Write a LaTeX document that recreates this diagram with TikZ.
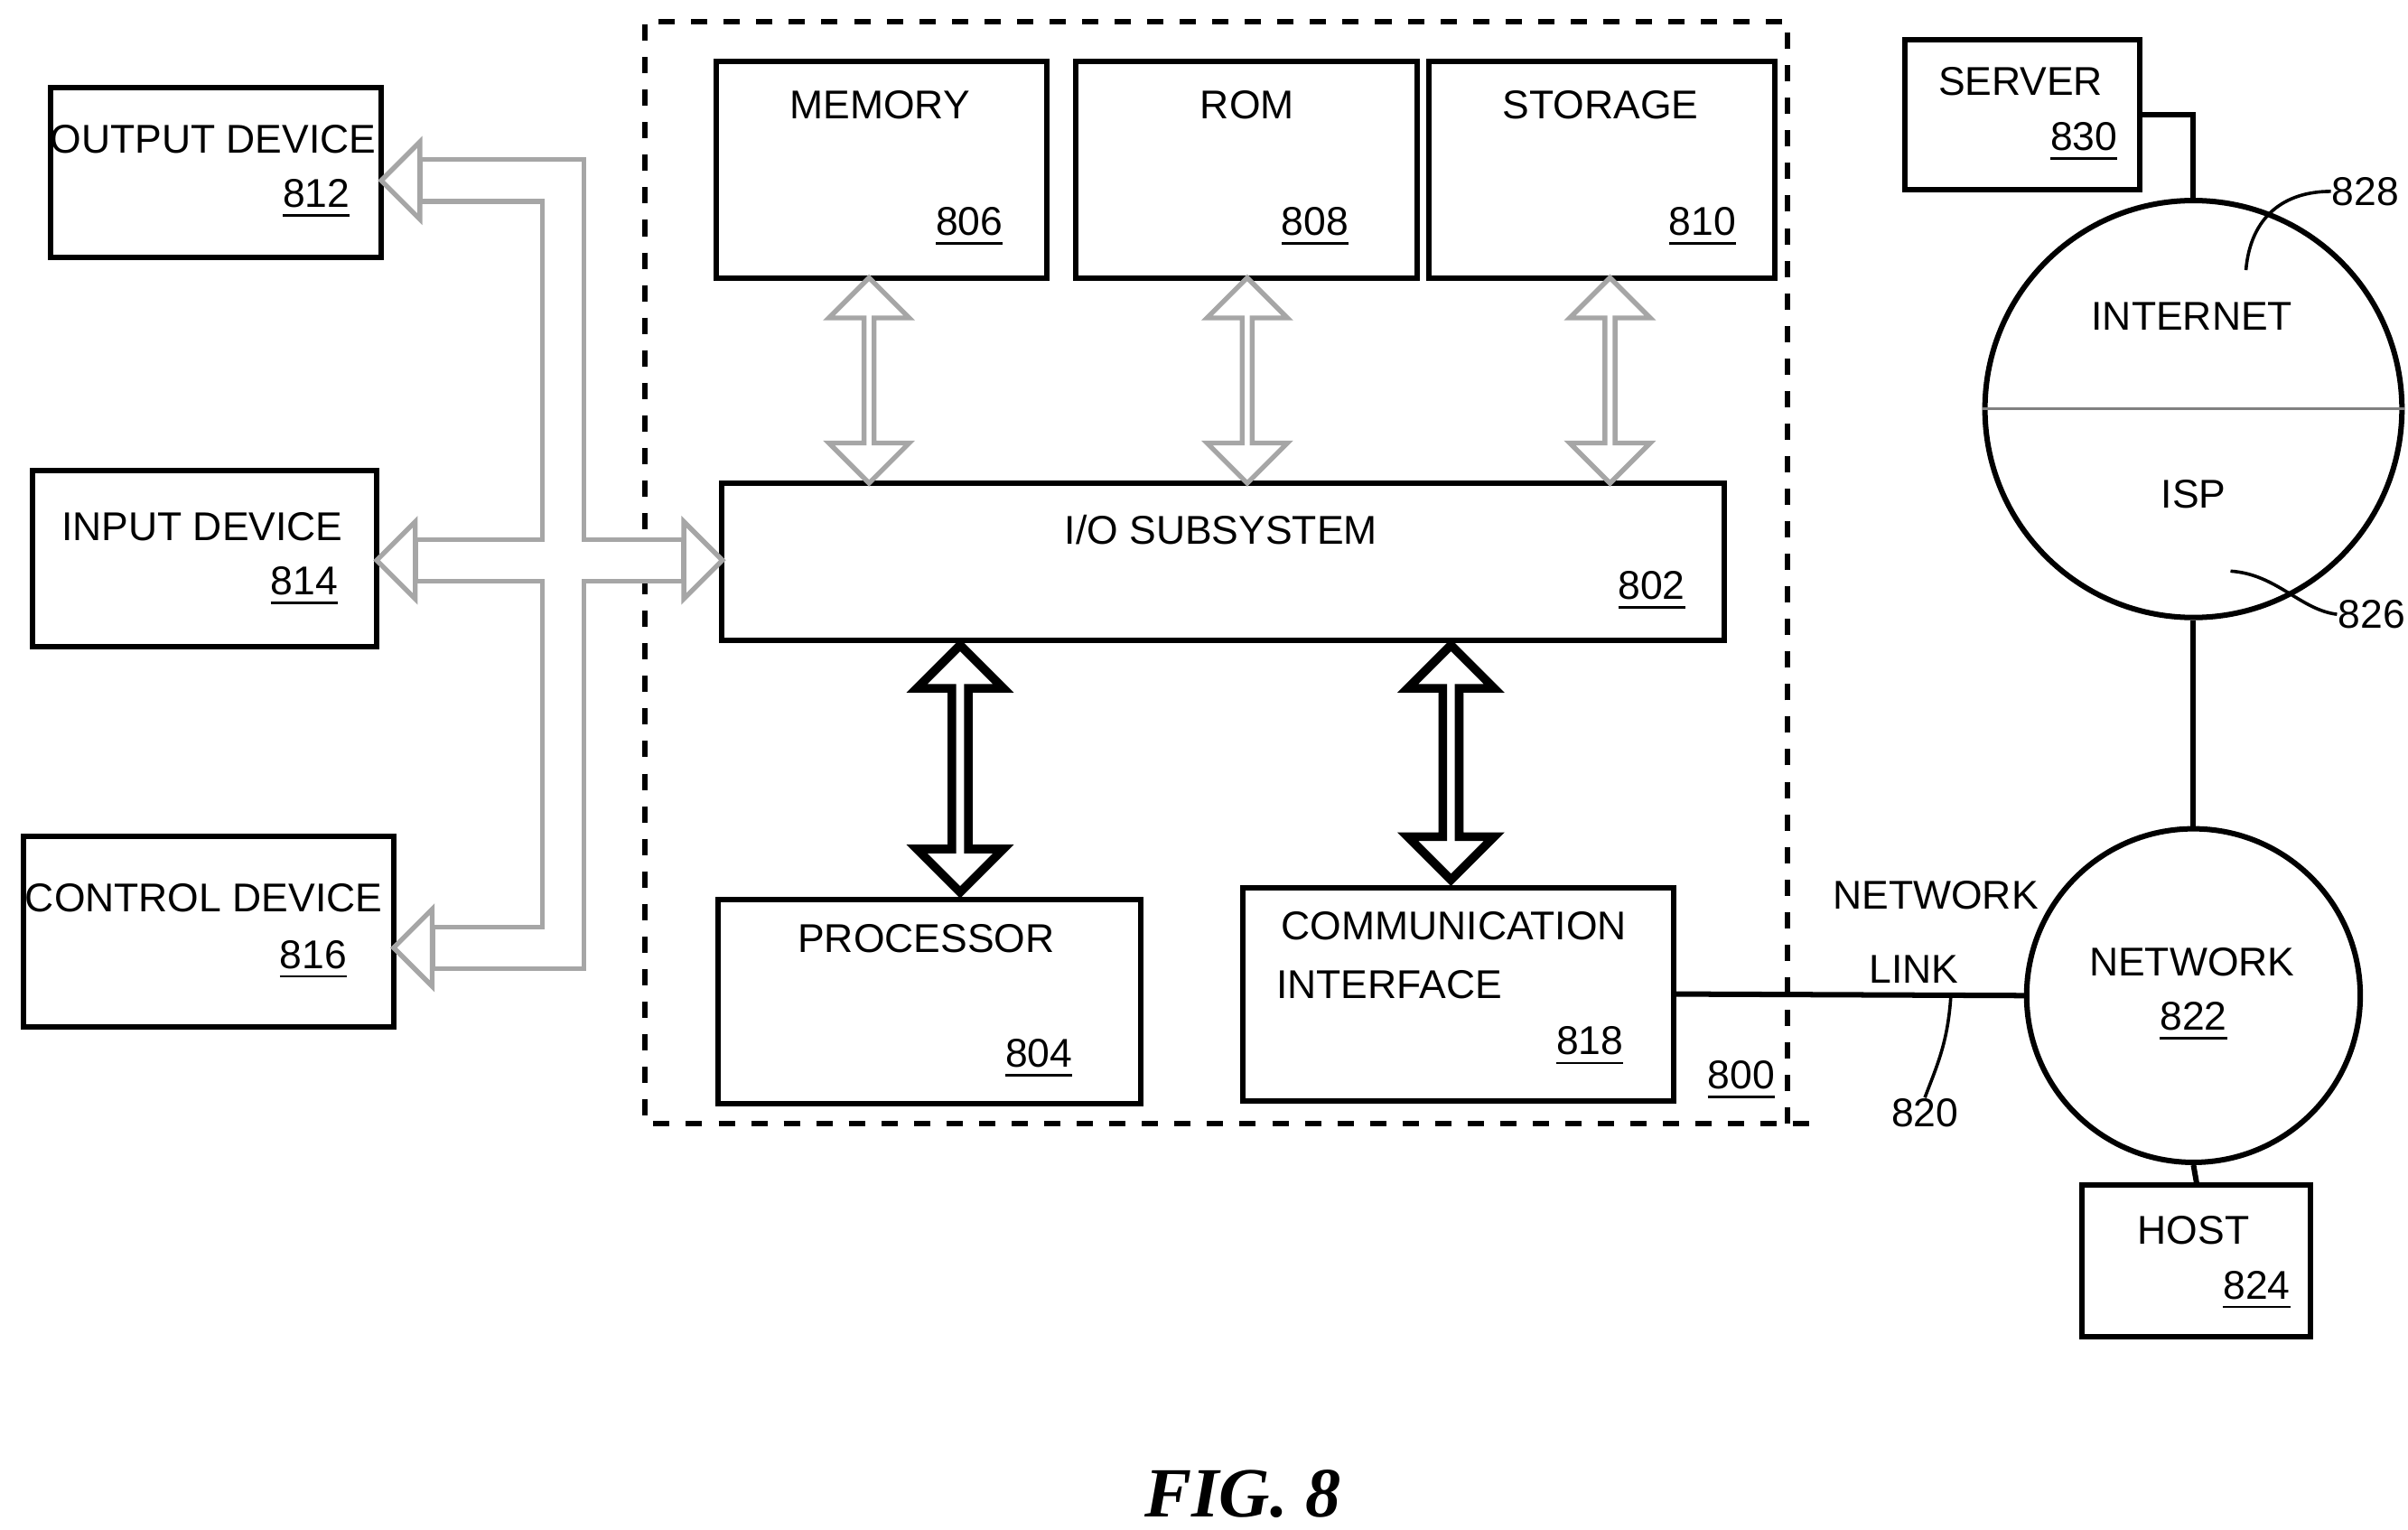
\documentclass[tikz,border=0pt]{standalone}
\usepackage{fontspec}
\setmainfont{Liberation Sans}
\newfontfamily\figfont{Liberation Serif}
\usetikzlibrary{shapes.arrows}
\newcommand{\lbfont}{\fontsize{7.4}{9}\selectfont}
\tikzset{
  box/.style={draw, line width=1pt, inner sep=0pt},
  lbl/.style={font=\lbfont, inner sep=0pt},
  ubus/.style={double arrow, draw=gray!70, line width=0.9pt, rotate=90,
    minimum width=0.52cm, double arrow head extend=0.11cm, inner sep=0pt},
  lbus/.style={double arrow, draw, line width=1.6pt, rotate=90,
    minimum width=0.56cm, double arrow head extend=0.12cm, inner sep=0pt}
}
\begin{document}
\begin{tikzpicture}[x=0.01cm, y=-0.01cm]
    \useasboundingbox (0,0) rectangle (1560,991);
    % system boundary
    \draw[dashed, line width=1pt] (1158,728) -- (1158,14) -- (418,14) -- (418,728) -- (1175,728);
    % boxes
    \node[box, minimum width=2.14cm, minimum height=1.40cm] (mem) at (571,110) {};
    \node[box, minimum width=2.21cm, minimum height=1.40cm] (rom) at (807.5,110) {};
    \node[box, minimum width=2.24cm, minimum height=1.40cm] (sto) at (1038,110) {};
    \node[box, minimum width=6.49cm, minimum height=1.02cm] (io) at (792.5,364) {};
    \node[box, minimum width=2.74cm, minimum height=1.32cm] (cpu) at (602,649) {};
    \node[box, minimum width=2.79cm, minimum height=1.38cm] (ci) at (944.5,644) {};
    \node[box, minimum width=2.14cm, minimum height=1.10cm] (out) at (140,112) {};
    \node[box, minimum width=2.23cm, minimum height=1.14cm] (inp) at (132.5,362) {};
    \node[box, minimum width=2.40cm, minimum height=1.23cm] (ctl) at (135,603.5) {};
    \node[box, minimum width=1.52cm, minimum height=0.97cm] (srv) at (1310,74.5) {};
    \node[box, minimum width=1.48cm, minimum height=0.98cm] (host) at (1423,817) {};
    \node[draw, line width=1pt, circle, minimum size=2.70cm, inner sep=0pt] (inet) at (1421,265) {};
    \node[draw, line width=1pt, circle, minimum size=2.16cm, inner sep=0pt] (net) at (1421,645) {};
    \draw[line width=0.5pt, gray] (inet.west) -- (inet.east);
    % labels
    \node[lbl] at (570,68) {MEMORY};
    \node[lbl] at (628,147) {\underline{806}};
    \node[lbl] at (808,68) {ROM};
    \node[lbl] at (852,147) {\underline{808}};
    \node[lbl] at (1037,68) {STORAGE};
    \node[lbl] at (1103,147) {\underline{810}};
    \node[lbl] at (791,343) {I/O SUBSYSTEM};
    \node[lbl] at (1070,383) {\underline{802}};
    \node[lbl] at (600,608) {PROCESSOR};
    \node[lbl] at (673,686) {\underline{804}};
    \node[lbl] at (942,600) {COMMUNICATION};
    \node[lbl] at (900,638) {INTERFACE};
    \node[lbl] at (1030,678) {\underline{818}};
    \node[lbl] at (1128,700) {\underline{800}};
    \node[lbl] at (138,90) {OUTPUT DEVICE};
    \node[lbl] at (205,129) {\underline{812}};
    \node[lbl] at (131,341) {INPUT DEVICE};
    \node[lbl] at (197,380) {\underline{814}};
    \node[lbl] at (132,582) {CONTROL DEVICE};
    \node[lbl] at (203,622) {\underline{816}};
    \node[lbl] at (1309,53) {SERVER};
    \node[lbl] at (1350,92) {\underline{830}};
    \node[lbl] at (1420,205) {INTERNET};
    \node[lbl] at (1421,320) {ISP};
    \node[lbl] at (1420,623) {NETWORK};
    \node[lbl] at (1421,662) {\underline{822}};
    \node[lbl] at (1421,797) {HOST};
    \node[lbl] at (1462,836) {\underline{824}};
    \node[lbl] at (1254,580) {NETWORK};
    \node[lbl] at (1240,628) {LINK};
    \node[lbl] (l820) at (1247,721) {820};
    \node[lbl, anchor=west] (l828) at (1510,124) {828};
    \node[lbl, anchor=west] (l826) at (1514,398) {826};
    \node[font=\figfont\bfseries\itshape\fontsize{13}{15}\selectfont, inner sep=0pt] at (805,968) {FIG. 8};
    % network lines
    \draw[line width=1pt] (srv.east) -| (inet.north);
    \draw[line width=1pt] (inet.south) -- (net.north);
    \draw[line width=1pt] (net.south) -- (host.north);
    \draw[line width=1pt] (ci.east) -- coordinate[pos=0.79] (lk) (net.west);
    \draw[line width=0.6pt] (lk) .. controls (1262,675) and (1255,690) .. (l820.north);
    \draw[line width=0.6pt] (1455,175) .. controls (1458,140) and (1480,124) .. (l828.west);
    \draw[line width=0.6pt] (1445,370) .. controls (1475,372) and (1490,395) .. (l826.west);
    % internal buses
    \node[ubus, minimum height=1.33cm] (a1) at (563,246.5) {};
    \node[ubus, minimum height=1.33cm] (a2) at (808,246.5) {};
    \node[ubus, minimum height=1.33cm] (a3) at (1043,246.5) {};
    \node[lbus, minimum height=1.60cm] (a4) at (622,498) {};
    \node[lbus, minimum height=1.52cm] (a5) at (940,494) {};
    % external bus
    \draw[gray!70, line width=0.30cm, line join=miter] (272,117) -- (365,117) -- (365,614) -- (280,614);
    \draw[gray!70, line width=0.30cm] (269,363) -- (443,363);
    \foreach \tx/\bx/\ty in {247/272/117, 244/269/363, 255/280/614, 468/443/363}
      \filldraw[fill=white, draw=gray!70, line width=0.9pt, line join=miter]
        (\tx,\ty) -- (\bx,\ty-25) -- (\bx,\ty+25) -- cycle;
    \draw[white, line width=0.24cm, line join=miter] (274,117) -- (365,117) -- (365,614) -- (282,614);
    \draw[white, line width=0.24cm] (271,363) -- (441,363);
\end{tikzpicture}
\end{document}
